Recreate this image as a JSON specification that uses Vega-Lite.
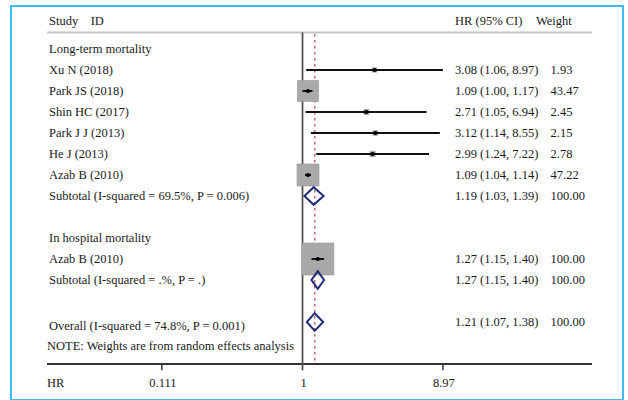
{
  "$schema": "https://vega.github.io/schema/vega-lite/v6.json",
  "autosize": {"type": "none"},
  "width": 612,
  "height": 394,
  "padding": {"left": 11, "top": 6, "right": 5, "bottom": 0},
  "background": "white",
  "config": {"view": {"stroke": "#40BDF0", "strokeWidth": 2}},
  "datasets": {
    "studies": [
      {"row": 1, "est": 3.08, "lo": 1.06, "hi": 8.97, "w": 1.93},
      {"row": 2, "est": 1.09, "lo": 1.00, "hi": 1.17, "w": 43.47},
      {"row": 3, "est": 2.71, "lo": 1.05, "hi": 6.94, "w": 2.45},
      {"row": 4, "est": 3.12, "lo": 1.14, "hi": 8.55, "w": 2.15},
      {"row": 5, "est": 2.99, "lo": 1.24, "hi": 7.22, "w": 2.78},
      {"row": 6, "est": 1.09, "lo": 1.04, "hi": 1.14, "w": 47.22},
      {"row": 10, "est": 1.27, "lo": 1.15, "hi": 1.40, "w": 100}
    ],
    "diamonds": [
      {"d": "sub1", "k": 0, "v": 1.03, "row": 7},
      {"d": "sub1", "k": 1, "v": 1.19, "row": 6.58},
      {"d": "sub1", "k": 2, "v": 1.39, "row": 7},
      {"d": "sub1", "k": 3, "v": 1.19, "row": 7.42},
      {"d": "sub1", "k": 4, "v": 1.03, "row": 7},
      {"d": "sub1", "k": 5, "v": 1.19, "row": 6.58},
      {"d": "sub2", "k": 0, "v": 1.15, "row": 11},
      {"d": "sub2", "k": 1, "v": 1.27, "row": 10.58},
      {"d": "sub2", "k": 2, "v": 1.40, "row": 11},
      {"d": "sub2", "k": 3, "v": 1.27, "row": 11.42},
      {"d": "sub2", "k": 4, "v": 1.15, "row": 11},
      {"d": "sub2", "k": 5, "v": 1.27, "row": 10.58},
      {"d": "all", "k": 0, "v": 1.07, "row": 13},
      {"d": "all", "k": 1, "v": 1.21, "row": 12.58},
      {"d": "all", "k": 2, "v": 1.38, "row": 13},
      {"d": "all", "k": 3, "v": 1.21, "row": 13.42},
      {"d": "all", "k": 4, "v": 1.07, "row": 13},
      {"d": "all", "k": 5, "v": 1.21, "row": 12.58}
    ],
    "labels": [
      {"row": -1.35, "col": 1, "txt": "Study\u00a0\u00a0\u00a0\u00a0ID"},
      {"row": -1.35, "col": 2, "txt": "HR (95% CI)"},
      {"row": -1.35, "col": 3, "txt": "Weight"},
      {"row": 0, "col": 1, "txt": "Long-term mortality"},
      {"row": 1, "col": 1, "txt": "Xu N (2018)"},
      {"row": 2, "col": 1, "txt": "Park JS (2018)"},
      {"row": 3, "col": 1, "txt": "Shin HC (2017)"},
      {"row": 4, "col": 1, "txt": "Park J J (2013)"},
      {"row": 5, "col": 1, "txt": "He J (2013)"},
      {"row": 6, "col": 1, "txt": "Azab B (2010)"},
      {"row": 7, "col": 1, "txt": "Subtotal (I-squared = 69.5%, P = 0.006)"},
      {"row": 9, "col": 1, "txt": "In hospital mortality"},
      {"row": 10, "col": 1, "txt": "Azab B (2010)"},
      {"row": 11, "col": 1, "txt": "Subtotal (I-squared = .%, P = .)"},
      {"row": 13.2, "col": 1, "txt": "Overall (I-squared = 74.8%, P = 0.001)"},
      {"row": 14.15, "col": 0, "txt": "NOTE: Weights are from random effects analysis"},
      {"row": 15.9, "col": 0, "txt": "HR"},
      {"row": 1, "col": 2, "txt": "3.08 (1.06, 8.97)"},
      {"row": 2, "col": 2, "txt": "1.09 (1.00, 1.17)"},
      {"row": 3, "col": 2, "txt": "2.71 (1.05, 6.94)"},
      {"row": 4, "col": 2, "txt": "3.12 (1.14, 8.55)"},
      {"row": 5, "col": 2, "txt": "2.99 (1.24, 7.22)"},
      {"row": 6, "col": 2, "txt": "1.09 (1.04, 1.14)"},
      {"row": 7, "col": 2, "txt": "1.19 (1.03, 1.39)"},
      {"row": 10, "col": 2, "txt": "1.27 (1.15, 1.40)"},
      {"row": 11, "col": 2, "txt": "1.27 (1.15, 1.40)"},
      {"row": 13, "col": 2, "txt": "1.21 (1.07, 1.38)"},
      {"row": 1, "col": 4, "txt": "1.93"},
      {"row": 2, "col": 4, "txt": "43.47"},
      {"row": 3, "col": 4, "txt": "2.45"},
      {"row": 4, "col": 4, "txt": "2.15"},
      {"row": 5, "col": 4, "txt": "2.78"},
      {"row": 6, "col": 4, "txt": "47.22"},
      {"row": 7, "col": 4, "txt": "100.00"},
      {"row": 10, "col": 4, "txt": "100.00"},
      {"row": 11, "col": 4, "txt": "100.00"},
      {"row": 13, "col": 4, "txt": "100.00"}
    ]
  },
  "resolve": {"scale": {"x": "independent"}},
  "layer": [
    {
      "data": {"values": [{"row": -0.79, "a": 0.01846, "b": 92.1}]},
      "mark": {"type": "rule", "color": "#C4C4C4", "strokeWidth": 2},
      "encoding": {
        "x": {"field": "a", "type": "quantitative", "scale": {"type": "log", "domain": [0.01051, 149.6], "nice": false}, "axis": null},
        "x2": {"field": "b"},
        "y": {"field": "row", "type": "quantitative", "scale": {"domain": [-2.0476, 16.714], "reverse": true, "nice": false, "zero": false}, "axis": null}
      }
    },
    {
      "data": {"values": [{"row": 15, "a": 0.01846, "b": 92.1}]},
      "mark": {"type": "rule", "color": "#333333", "strokeWidth": 2},
      "encoding": {
        "x": {"field": "a", "type": "quantitative", "scale": {"type": "log", "domain": [0.01051, 149.6], "nice": false}, "axis": null},
        "x2": {"field": "b"},
        "y": {"field": "row", "type": "quantitative", "scale": {"domain": [-2.0476, 16.714], "reverse": true, "nice": false, "zero": false}, "axis": null}
      }
    },
    {
      "data": {"values": [{"v": 0.111, "r1": 15, "r2": 15.3}, {"v": 8.97, "r1": 15, "r2": 15.3}]},
      "mark": {"type": "rule", "color": "#333333", "strokeWidth": 1.5},
      "encoding": {
        "x": {"field": "v", "type": "quantitative", "scale": {"type": "log", "domain": [0.01051, 149.6], "nice": false}, "axis": null},
        "y": {"field": "r1", "type": "quantitative", "scale": {"domain": [-2.0476, 16.714], "reverse": true, "nice": false, "zero": false}, "axis": null},
        "y2": {"field": "r2"}
      }
    },
    {
      "data": {"values": [{"v": 1, "r1": -0.79, "r2": 15.3}]},
      "mark": {"type": "rule", "color": "#4D4D4D", "strokeWidth": 1.7},
      "encoding": {
        "x": {"field": "v", "type": "quantitative", "scale": {"type": "log", "domain": [0.01051, 149.6], "nice": false}, "axis": null},
        "y": {"field": "r1", "type": "quantitative", "scale": {"domain": [-2.0476, 16.714], "reverse": true, "nice": false, "zero": false}, "axis": null},
        "y2": {"field": "r2"}
      }
    },
    {
      "data": {"values": [{"v": 1.21, "r1": -0.72, "r2": 15}]},
      "mark": {"type": "rule", "color": "#C2606F", "strokeWidth": 1.5, "strokeDash": [2.5, 3.5]},
      "encoding": {
        "x": {"field": "v", "type": "quantitative", "scale": {"type": "log", "domain": [0.01051, 149.6], "nice": false}, "axis": null},
        "y": {"field": "r1", "type": "quantitative", "scale": {"domain": [-2.0476, 16.714], "reverse": true, "nice": false, "zero": false}, "axis": null},
        "y2": {"field": "r2"}
      }
    },
    {
      "data": {"name": "studies"},
      "mark": {"type": "square", "filled": true, "color": "#A9A9A9", "stroke": "#959595", "strokeWidth": 0.6, "opacity": 1},
      "encoding": {
        "x": {"field": "est", "type": "quantitative", "scale": {"type": "log", "domain": [0.01051, 149.6], "nice": false}, "axis": null},
        "y": {"field": "row", "type": "quantitative", "scale": {"domain": [-2.0476, 16.714], "reverse": true, "nice": false, "zero": false}, "axis": null},
        "size": {"field": "w", "type": "quantitative", "scale": {"type": "linear", "domain": [0, 100], "range": [0, 1024], "zero": true}, "legend": null}
      }
    },
    {
      "data": {"name": "studies"},
      "mark": {"type": "rule", "color": "#111111", "strokeWidth": 2},
      "encoding": {
        "x": {"field": "lo", "type": "quantitative", "scale": {"type": "log", "domain": [0.01051, 149.6], "nice": false}, "axis": null},
        "x2": {"field": "hi"},
        "y": {"field": "row", "type": "quantitative", "scale": {"domain": [-2.0476, 16.714], "reverse": true, "nice": false, "zero": false}, "axis": null}
      }
    },
    {
      "data": {"name": "studies"},
      "mark": {"type": "point", "shape": "circle", "filled": true, "color": "#000000", "size": 18, "opacity": 1},
      "encoding": {
        "x": {"field": "est", "type": "quantitative", "scale": {"type": "log", "domain": [0.01051, 149.6], "nice": false}, "axis": null},
        "y": {"field": "row", "type": "quantitative", "scale": {"domain": [-2.0476, 16.714], "reverse": true, "nice": false, "zero": false}, "axis": null}
      }
    },
    {
      "data": {"name": "diamonds"},
      "mark": {"type": "line", "color": "#1F2B78", "strokeWidth": 2, "strokeJoin": "miter"},
      "encoding": {
        "x": {"field": "v", "type": "quantitative", "scale": {"type": "log", "domain": [0.01051, 149.6], "nice": false}, "axis": null},
        "y": {"field": "row", "type": "quantitative", "scale": {"domain": [-2.0476, 16.714], "reverse": true, "nice": false, "zero": false}, "axis": null},
        "detail": {"field": "d", "type": "nominal"},
        "order": {"field": "k", "type": "quantitative"}
      }
    },
    {
      "data": {"values": [{"v": 0.111, "t": "0.111", "row": 15.9}, {"v": 1, "t": "1", "row": 15.9}, {"v": 8.97, "t": "8.97", "row": 15.9}]},
      "mark": {"type": "text", "font": "Liberation Serif", "fontSize": 12.5, "color": "#1A1A1A", "align": "center", "baseline": "middle", "dx": 1},
      "encoding": {
        "x": {"field": "v", "type": "quantitative", "scale": {"type": "log", "domain": [0.01051, 149.6], "nice": false}, "axis": null},
        "y": {"field": "row", "type": "quantitative", "scale": {"domain": [-2.0476, 16.714], "reverse": true, "nice": false, "zero": false}, "axis": null},
        "text": {"field": "t"}
      }
    },
    {
      "data": {"name": "labels"},
      "mark": {"type": "text", "font": "Liberation Serif", "fontSize": 12.5, "color": "#1A1A1A", "align": "left", "baseline": "middle"},
      "encoding": {
        "x": {"field": "col", "type": "quantitative", "scale": {"type": "linear", "domain": [0, 1, 2, 3, 4], "range": [36, 38, 444, 525, 539.5], "nice": false, "zero": false}, "axis": null},
        "y": {"field": "row", "type": "quantitative", "scale": {"domain": [-2.0476, 16.714], "reverse": true, "nice": false, "zero": false}, "axis": null},
        "text": {"field": "txt"}
      }
    }
  ]
}
